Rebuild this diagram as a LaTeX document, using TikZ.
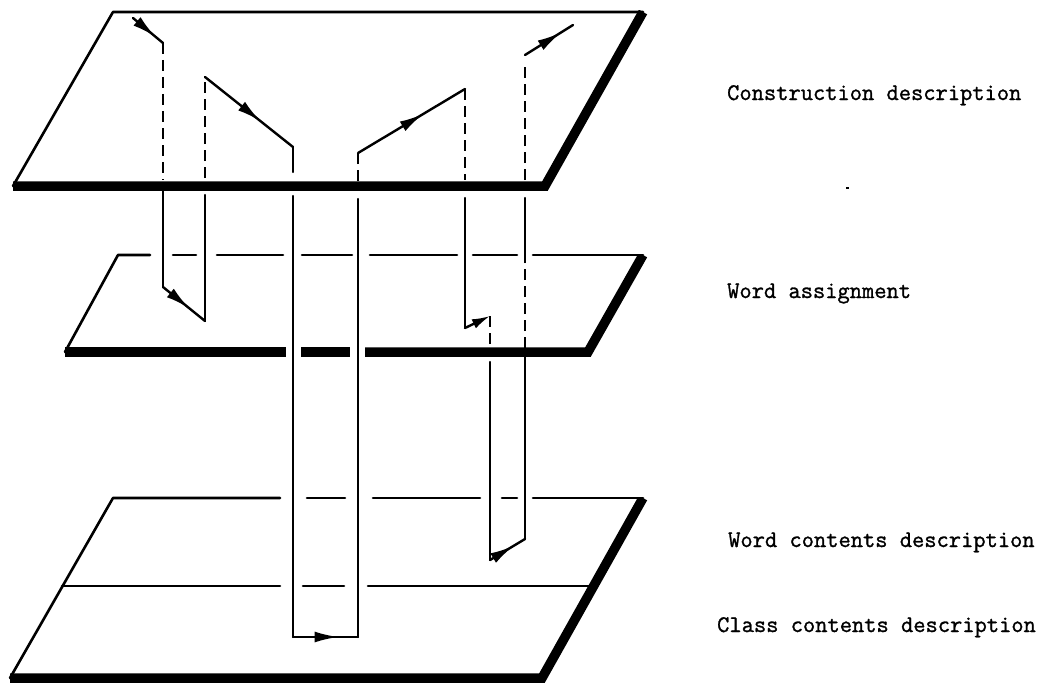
\documentclass[tikz,border=0pt]{standalone}
\usepackage{fontspec}
\setmonofont[FakeBold=1.2]{Latin Modern Mono}
\usetikzlibrary{arrows.meta,decorations.markings}
\tikzset{
  planeedge/.style={line width=2.6pt, line cap=round, line join=round},
  heavy/.style={line width=9.5pt, line join=miter, line cap=butt},
  route/.style={line width=2.4pt, line cap=round, line join=miter},
  hidden/.style={line width=2.4pt, dash pattern=on 11pt off 6pt},
  flow/.style={route, decoration={markings, mark=at position #1 with {\arrow{Latex[length=24pt,width=11pt]}}}, postaction={decorate}},
  flow/.default=0.62,
  lbl/.style={anchor=base west, inner sep=0pt, font=\ttfamily\fontsize{23.8}{28}\selectfont},
}
\begin{document}
\begin{tikzpicture}[x=1pt,y=-1pt]
\useasboundingbox (0,0) rectangle (1045,685);

% ---------- path coordinates ----------
\coordinate (a0) at (133,18);
\coordinate (a1) at (163,43);
\coordinate (a2) at (163,180);
\coordinate (a3) at (163,188);
\coordinate (a4) at (163,287);
\coordinate (b0) at (205,321);
\coordinate (b1) at (205,195);
\coordinate (b2) at (205,178);
\coordinate (b3) at (205,77);
\coordinate (c0) at (293,147);
\coordinate (c1) at (293,172);
\coordinate (c2) at (293,196);
\coordinate (c3) at (293,637);
\coordinate (d0) at (358,637);
\coordinate (d1) at (358,199);
\coordinate (d2) at (358,181);
\coordinate (d3) at (358,153);
\coordinate (e0) at (465,89);
\coordinate (e1) at (465,180);
\coordinate (e2) at (465,198);
\coordinate (e3) at (465,328);
\coordinate (f0) at (490,316);
\coordinate (f1) at (490,348);
\coordinate (f2) at (490,362);
\coordinate (f3) at (490,560);
\coordinate (g0) at (525,539);
\coordinate (g1) at (525,352);
\coordinate (g2) at (525,348);
\coordinate (g3) at (525,262);
\coordinate (g4) at (525,198);
\coordinate (g5) at (525,180);
\coordinate (g6) at (525,62);
\coordinate (h0) at (525,55);
\coordinate (h1) at (573,25);

% ---------- thin plane edges ----------
% top plane
\draw[planeedge] (643,12) -- (113,12) -- (13,186);
% middle plane
\draw[planeedge] (150,255) -- (118,255) -- (65,352);
\draw[planeedge] (173,255) -- (196,255);
\draw[planeedge] (217,255) -- (283,255);
\draw[planeedge] (302,255) -- (352,255);
\draw[planeedge] (370,255) -- (457,255);
\draw[planeedge] (473,255) -- (517,255);
\draw[planeedge] (533,255) -- (643,255);
% bottom plane
\draw[planeedge] (280,498) -- (113,498) -- (10,678);
\draw[planeedge] (307,498) -- (345,498);
\draw[planeedge] (373,498) -- (480,498);
\draw[planeedge] (502,498) -- (517,498);
\draw[planeedge] (533,498) -- (643,498);
\draw[planeedge] (62,586) -- (280,586);
\draw[planeedge] (303,586) -- (344,586);
\draw[planeedge] (368,586) -- (592,586);

% ---------- route ----------
\draw[flow=0.75] (a0) -- (a1);
\draw[hidden] (a1) -- (a2);
\draw[route] (a3) -- (a4);
\draw[flow=0.62] (a4) -- (b0);
\draw[route] (b0) -- (b1);
\draw[hidden] (b2) -- (b3);
\draw[flow=0.63] (b3) -- (c0);
\draw[route] (c0) -- (c1);
\draw[route] (c2) -- (c3);
\draw[flow=0.7] (c3) -- (d0);
\draw[route] (d0) -- (d1);
\draw[hidden] (d2) -- (d3);
\draw[flow=0.61] (d3) -- (e0);
\draw[hidden] (e0) -- (e1);
\draw[route] (e2) -- (e3);
\draw[route,-{Latex[length=18pt,width=10pt]}] (e3) -- (f0);
\draw[hidden] (f0) -- (f1);
\draw[route] (f2) -- (f3);
\draw[flow=0.68] (f3) -- (g0);
\draw[route] (g0) -- (g1);
\draw[hidden] (g2) -- (g3);
\draw[route] (g3) -- (g4);
\draw[hidden] (g5) -- (g6);
\draw[flow=0.75] (h0) -- (h1);

% ---------- heavy front edges ----------
\begin{scope}
  \clip (0,11) rectangle (1045,240);
  \draw[heavy] (13,186) -- (545,186) -- (643,12);
\end{scope}
\begin{scope}
  \clip (0,254) rectangle (1045,400);
  \draw[heavy] (65,352) -- (286,352);
  \draw[heavy] (301,352) -- (350,352);
  \draw[heavy] (365,352) -- (588,352) -- (643,255);
\end{scope}
\begin{scope}
  \clip (0,497) rectangle (1045,685);
  \draw[heavy] (10,678) -- (542,678) -- (643,498);
\end{scope}

% stray mark
\fill (846,186.5) rectangle (849,189);

% ---------- labels ----------
\node[lbl] (l1) at (727,100) {Construction description};
\node[lbl] (l2) at (727,298) {Word assignment};
\node[lbl] (l3) at (728,547) {Word contents description};
\node[lbl] (l4) at (717,632) {Class contents description};
\end{tikzpicture}
\end{document}
